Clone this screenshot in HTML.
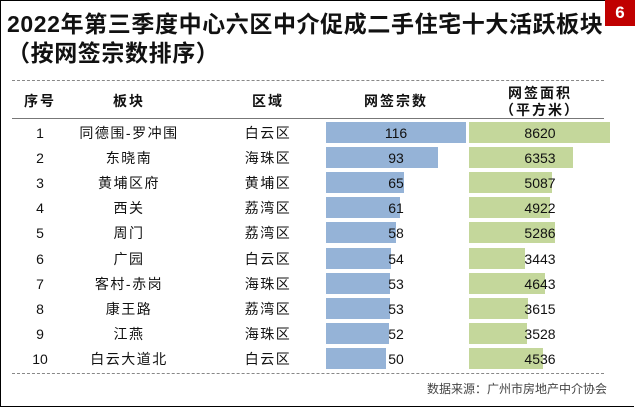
<!DOCTYPE html>
<html><head><meta charset="utf-8"><style>
body{margin:0;width:635px;height:407px;background:#fff;position:relative;overflow:hidden;font-family:"Liberation Sans","Noto Sans CJK SC",sans-serif;color:#111}
.frame{position:absolute;left:0;top:0;width:633px;height:405px;border:1px solid #000;border-right:none}
.red{position:absolute;left:605px;top:0;width:30px;height:26px;background:#c00000;color:#fff;font-weight:bold;font-size:17px;text-align:center;line-height:26px}
.title{position:absolute;left:7px;top:10px;font-size:23px;font-weight:bold;line-height:29px;letter-spacing:0.6px}
.dash{position:absolute;left:12px;width:592px;border-top:1px dashed #888}
.solid{position:absolute;left:12px;width:592px;border-top:1px solid #777}
.h{position:absolute;font-size:14px;font-weight:bold;text-align:center;transform:translateX(-50%);white-space:nowrap;letter-spacing:2px}
.c{position:absolute;font-size:14px;text-align:center;transform:translateX(-50%);white-space:nowrap;line-height:20px}
.bar{position:absolute;height:21px}
.src{position:absolute;right:28px;top:380px;font-size:12px;color:#444}
</style></head><body>
<div class="frame"></div>
<div class="red">6</div>
<div class="title">2022年第三季度中心六区中介促成二手住宅十大活跃板块<br>（按网签宗数排序）</div>
<div class="dash" style="top:80px"></div>
<div class="h" style="left:40px;top:91px">序号</div>
<div class="h" style="left:129px;top:91px">板块</div>
<div class="h" style="left:268px;top:91px">区域</div>
<div class="h" style="left:396px;top:91px">网签宗数</div>
<div class="h" style="left:540px;top:83px">网签面积</div>
<div class="h" style="left:540px;top:100px">（平方米）</div>
<div class="solid" style="top:118px"></div>
<div class="dash" style="top:373px"></div>
<div class="src">数据来源：广州市房地产中介协会</div>
<div id="rows"></div>
<script>
var d=[["1","同德围-罗冲围","白云区",116,8620],["2","东晓南","海珠区",93,6353],["3","黄埔区府","黄埔区",65,5087],["4","西关","荔湾区",61,4922],["5","周门","荔湾区",58,5286],["6","广园","白云区",54,3443],["7","客村-赤岗","海珠区",53,4643],["8","康王路","荔湾区",53,3615],["9","江燕","海珠区",52,3528],["10","白云大道北","白云区",50,4536]];
var h="";
d.forEach(function(r,i){var t=121.5+i*25.2;
h+='<div class="bar" style="left:326px;top:'+t+'px;width:'+(r[3]*1.207)+'px;background:#95b3d7"></div>';
h+='<div class="bar" style="left:469px;top:'+t+'px;width:'+(r[4]*0.01636)+'px;background:#c4d79b"></div>';
var ty=t+1;
h+='<div class="c" style="left:40px;top:'+ty+'px">'+r[0]+'</div>';
h+='<div class="c" style="left:129px;top:'+ty+'px;letter-spacing:1.5px">'+r[1]+'</div>';
h+='<div class="c" style="left:268px;top:'+ty+'px;letter-spacing:1.5px">'+r[2]+'</div>';
h+='<div class="c" style="left:396px;top:'+ty+'px">'+r[3]+'</div>';
h+='<div class="c" style="left:540px;top:'+ty+'px">'+r[4]+'</div>';});
document.getElementById("rows").innerHTML=h;
</script>
</body></html>
